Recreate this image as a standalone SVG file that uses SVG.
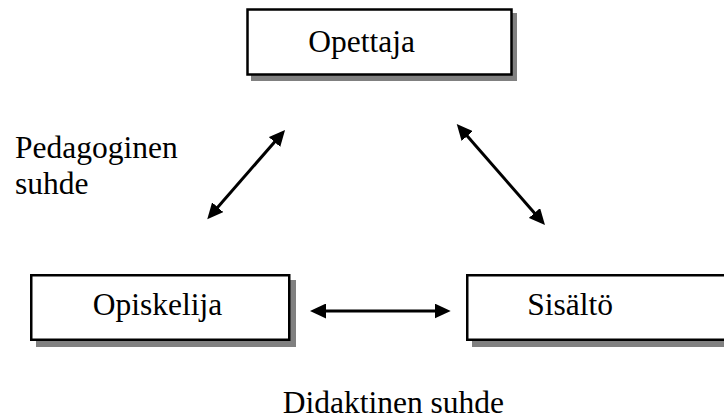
<svg xmlns="http://www.w3.org/2000/svg" width="724" height="420" viewBox="0 0 724 420">
<style>
.shadow{fill:#808080;}
.box{fill:#ffffff;stroke:#000000;stroke-width:2.5;}
.lbl{font-family:"Liberation Serif","Times New Roman",serif;font-size:31.5px;fill:#000000;}
.conn{stroke:#000000;stroke-width:3;fill:none;marker-start:url(#ah);marker-end:url(#ah);}
</style>
<defs>
<marker id="ah" viewBox="0 0 16 15" markerWidth="16" markerHeight="15" refX="8" refY="7.5" markerUnits="userSpaceOnUse" orient="auto-start-reverse">
<path d="M0,0 L16,7.5 L0,15 z" fill="#000000"/>
</marker>
</defs>
<rect width="724" height="420" fill="#ffffff"/>
<g id="opettaja">
<rect class="shadow" x="251" y="13" width="266" height="68"/>
<rect class="box" x="247.5" y="9.5" width="264" height="65"/>
<text class="lbl" x="308.3" y="52">Opettaja</text>
</g>
<g id="opiskelija">
<rect class="shadow" x="36" y="280" width="260" height="67"/>
<rect class="box" x="31.25" y="275.25" width="258" height="64.5"/>
<text class="lbl" x="92.7" y="315">Opiskelija</text>
</g>
<g id="sisalto">
<rect class="shadow" x="472" y="280" width="300" height="67"/>
<rect class="box" x="467.25" y="275.25" width="300" height="64.5"/>
<text class="lbl" x="527.3" y="315">Sisältö</text>
</g>
<g id="connectors">
<line class="conn" x1="212.5" y1="213.3" x2="279.8" y2="136"/>
<line class="conn" x1="462" y1="130" x2="539.7" y2="219"/>
<line class="conn" x1="318" y1="311" x2="442.7" y2="311"/>
</g>
<g id="labels">
<text class="lbl" x="15" y="158">Pedagoginen</text>
<text class="lbl" x="15" y="194">suhde</text>
<text class="lbl" x="282.7" y="413">Didaktinen suhde</text>
</g>
</svg>
